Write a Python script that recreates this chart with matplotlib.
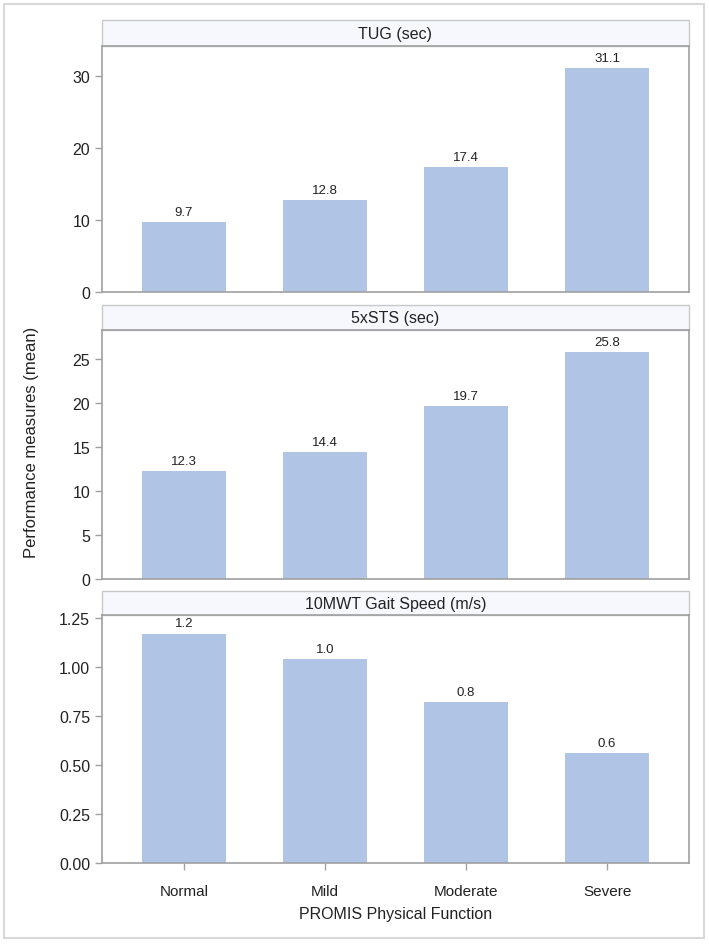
import matplotlib
matplotlib.use("Agg")
import matplotlib.pyplot as plt
from matplotlib.patches import Rectangle

plt.rcParams['font.family'] = ['Liberation Sans', 'DejaVu Sans']

categories = ["Normal", "Mild", "Moderate", "Severe"]
panel_titles = ["TUG (sec)", "5xSTS (sec)", "10MWT Gait Speed (m/s)"]
tug = [9.7, 12.8, 17.4, 31.1]
sts = [12.3, 14.4, 19.7, 25.8]
gait = [1.17, 1.04, 0.82, 0.56]
series = [tug, sts, gait]
yticks = [[0, 10, 20, 30], [0, 5, 10, 15, 20, 25], [0, 0.25, 0.5, 0.75, 1.0, 1.25]]
ytick_fmt = ["{:.0f}", "{:.0f}", "{:.2f}"]
ylims = [(0, 34.2), (0, 28.3), (0, 1.265)]

W, H = 709, 945
fig = plt.figure(figsize=(W / 100, H / 100), dpi=100)

def fx(x):
    return x / W

def fy(y):
    return 1 - y / H

left, right = 102, 689
panels = [(21, 47, 293), (306, 331, 580), (592, 616, 864)]
bar_color = '#B0C4E5'
frame_color = '#A0A0A0'

# outer border
fig.patches.append(Rectangle((fx(3.5), fy(939)), fx(704) - fx(3.5), fy(4.5) - fy(939),
                             transform=fig.transFigure, fill=False,
                             edgecolor='#D8D8D8', lw=1.5))

x = list(range(len(categories)))
for i, (htop, ptop, pbot) in enumerate(panels):
    # header
    fig.patches.append(Rectangle((fx(left), fy(ptop)), fx(right) - fx(left), fy(htop) - fy(ptop),
                                 transform=fig.transFigure, facecolor='#F7F8FE',
                                 edgecolor='#C8C8C8', lw=1.0, zorder=0.5))
    fig.text(fx((left + right) / 2), fy((htop + ptop) / 2), panel_titles[i],
             ha='center', va='center', fontsize=11.5, color='#222222')
    ax = fig.add_axes([fx(left), fy(pbot), fx(right) - fx(left), fy(ptop) - fy(pbot)],
                      zorder=1)
    ax.patch.set_alpha(0)
    vals = series[i]
    ax.bar(x, vals, width=0.6, color=bar_color, edgecolor='none')
    for xi, v in zip(x, vals):
        ax.annotate(f"{v:.1f}", (xi, v), xytext=(0, 3), textcoords='offset points',
                    ha='center', va='bottom', fontsize=9.5, color='#222222')
    ax.set_xlim(-0.58, 3.58)
    ax.set_ylim(*ylims[i])
    ax.set_yticks(yticks[i])
    ax.set_yticklabels([ytick_fmt[i].format(t) for t in yticks[i]])
    for s in ax.spines.values():
        s.set_color(frame_color)
        s.set_linewidth(1.2)
    ax.tick_params(axis='y', colors=frame_color, labelcolor='#222222', labelsize=11.5,
                   length=5, width=1)
    if i == 2:
        ax.set_xticks(x)
        ax.set_xticklabels(categories)
        ax.tick_params(axis='x', colors=frame_color, labelcolor='#222222', labelsize=11,
                       length=5, width=1, pad=10)
    else:
        ax.set_xticks([])

fig.text(fx(32), fy(442), "Performance measures (mean)", rotation=90,
         ha='center', va='center', fontsize=12, color='#222222')
fig.text(fx((left + right) / 2), fy(915), "PROMIS Physical Function",
         ha='center', va='center', fontsize=11.5, color='#222222')

fig.savefig("out.png", dpi=100)
